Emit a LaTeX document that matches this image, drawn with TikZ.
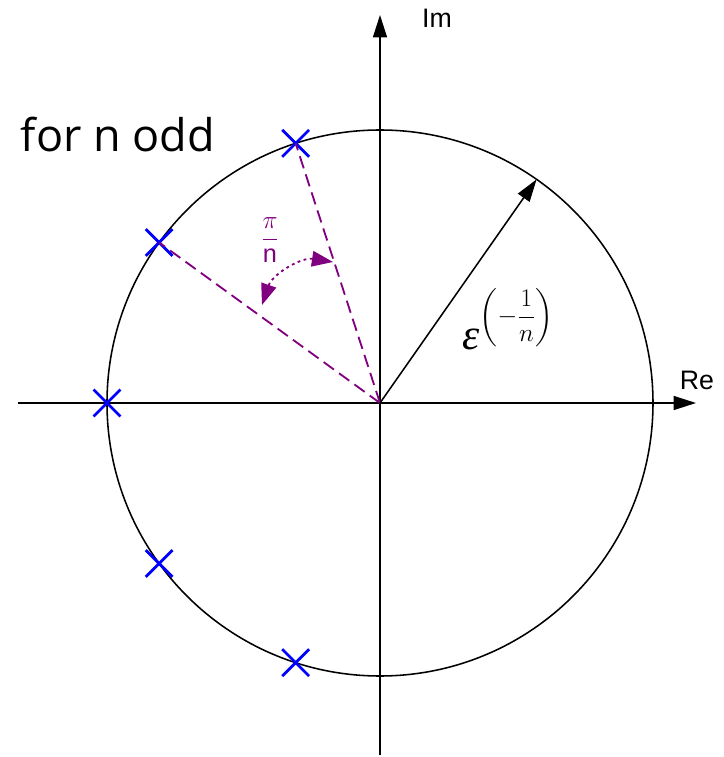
\documentclass[tikz,border=0pt]{standalone}
\usepackage{fix-cm}
\usepackage{amsmath}
\usepackage{fontspec}
\setsansfont{Liberation Sans}
\newfontfamily\oddfont{Open Sans}
\newfontfamily\epsfont{Liberation Serif}
\usetikzlibrary{arrows.meta,shapes.misc}
\definecolor{arcpurple}{RGB}{128,0,128}

\begin{document}
\begin{tikzpicture}[x=0.025cm, y=0.025cm,
  axis/.style={line width=1.1pt, -{Triangle[length=16pt,width=10pt]}},
  pole/.style={cross out, draw=blue, line width=2pt, minimum size=0.6cm, inner sep=0pt},
  ray/.style={arcpurple, line width=1.3pt, dash pattern=on 9pt off 4.5pt},
  lbl/.style={font=\sffamily\fontsize{19}{22}\selectfont}]
  \useasboundingbox (-380,-354) rectangle (344,403);
  \coordinate (O) at (0,0);
  \coordinate (W) at (-362,0);
  \coordinate (E) at (316,0);
  \coordinate (S) at (0,-352);
  \coordinate (N) at (0,388);
  % radius vector at 55 deg
  \coordinate (R) at (55:273);
  % ends of the angle arc
  \coordinate (A1) at (-118,98);
  \coordinate (A2) at (-47,141);

  \draw[axis] (W) -- (E);
  \draw[axis] (S) -- (N);
  \draw[line width=1.1pt] (O) circle (273);

  % poles for n = 5
  \node[pole] (p1) at (108:273) {};
  \node[pole] (p2) at (144:273) {};
  \node[pole] (p3) at (180:273) {};
  \node[pole] (p4) at (216:273) {};
  \node[pole] (p5) at (252:273) {};

  \draw[ray] (O) -- (p1.center);
  \draw[ray] (O) -- (p2.center);
  \draw[arcpurple, line width=1.3pt, dash pattern=on 2pt off 2.5pt,
    {Triangle[length=15pt,width=11pt]}-{Triangle[length=15pt,width=11pt]}]
    (A1) to[bend left=40] (A2);
  \draw[line width=1.1pt, -{Triangle[length=16pt,width=10pt]}] (O) -- (R);

  \node[lbl] (im) at (57,385) {Im};
  \node[lbl] (re) at (317,23) {Re};
  \node[font=\oddfont\fontsize{32}{36}\selectfont] (odd) at (-262,268) {for n odd};
  \node[text=arcpurple, font=\fontsize{18}{20}\selectfont] (ang) at (-110,163)
    {$\dfrac{\pi}{\textsf{n}}$};
  \node[font=\fontsize{18}{22}\selectfont, inner sep=0pt] (eps) at (128,84)
    {{\epsfont\itshape\fontsize{31}{33}\selectfont ε}\raisebox{1em}{$\displaystyle\left(-\frac{1}{n}\right)$}};
\end{tikzpicture}
\end{document}
